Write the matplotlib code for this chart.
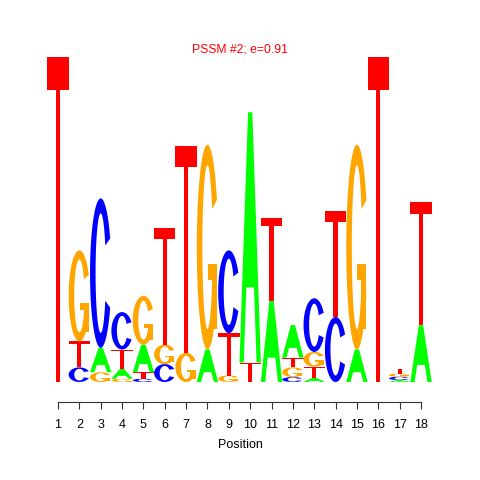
import matplotlib
matplotlib.use('Agg')
import matplotlib.pyplot as plt
from matplotlib.patches import Polygon, PathPatch
from matplotlib.path import Path
import numpy as np

plt.rcParams['font.family'] = ['Liberation Sans', 'DejaVu Sans']

# information content (bits) per letter, positions 1..18
positions = list(range(1, 19))
bits_A = [0.00, 0.00, 0.15, 0.06, 0.17, 0.00, 0.00, 0.20, 0.00, 1.54, 0.50, 0.20, 0.025, 0.00, 0.20, 0.00, 0.012, 0.35]
bits_C = [0.00, 0.09, 0.92, 0.23, 0.02, 0.11, 0.00, 0.00, 0.51, 0.00, 0.00, 0.03, 0.33, 0.40, 0.00, 0.00, 0.02, 0.00]
bits_G = [0.00, 0.56, 0.06, 0.02, 0.30, 0.12, 0.18, 1.26, 0.04, 0.00, 0.00, 0.06, 0.09, 0.00, 1.26, 0.00, 0.02, 0.00]
bits_T = [2.00, 0.16, 0.00, 0.12, 0.04, 0.72, 1.27, 0.00, 0.26, 0.12, 0.51, 0.06, 0.07, 0.65, 0.00, 2.00, 0.03, 0.76]

letters = {'A': bits_A, 'C': bits_C, 'G': bits_G, 'T': bits_T}
colors = {'A': '#00FF00', 'C': '#0000FF', 'G': '#FFA500', 'T': '#FF0000'}


def c_shape(cut=0.48, rx_in=0.24, ry_in=0.40):
    t = np.linspace(cut, 2 * np.pi - cut, 200)
    xo = 0.5 + 0.5 * np.cos(t)
    yo = 0.5 + 0.5 * np.sin(t)
    ti = np.linspace(2 * np.pi - cut, cut, 200)
    xi = 0.5 + rx_in * np.cos(ti)
    yi = 0.5 + ry_in * np.sin(ti)
    return np.concatenate([xo, xi]), np.concatenate([yo, yi])


def draw_letter(ax, ch, x0, y0, w, h, color):
    polys = []
    if ch == 'T':
        polys.append((np.array([0, 10, 10, 6, 6, 4, 4, 0]) * 0.1,
                      np.array([10, 10, 9, 9, 0, 0, 9, 9]) * 0.1))
    elif ch in 'CG':
        polys.append(c_shape())
        if ch == 'G':
            r1 = 0.5 + 0.5 * np.cos(0.48)
            polys.append((np.array([r1, 0.52, 0.52, r1 - 0.24, r1 - 0.24, r1, r1]),
                          np.array([0.42, 0.42, 0.34, 0.34, 0.1, 0.1, 0.42])))
    if ch == 'A':
        ox = np.array([0, 4, 6, 10, 8, 6.8, 3.2, 2, 0]) * 0.1
        oy = np.array([0, 10, 10, 0, 0, 3, 3, 0, 0]) * 0.1
        ix = np.array([3.6, 5, 6.4, 3.6]) * 0.1
        iy = np.array([4, 7.5, 4, 4]) * 0.1
        verts = np.vstack([np.column_stack([x0 + w * ox, y0 + h * oy]),
                           np.column_stack([x0 + w * ix, y0 + h * iy])])
        codes = ([Path.MOVETO] + [Path.LINETO] * 7 + [Path.CLOSEPOLY] +
                 [Path.MOVETO] + [Path.LINETO] * 2 + [Path.CLOSEPOLY])
        ax.add_patch(PathPatch(Path(verts, codes), facecolor=color, edgecolor='none'))
        return
    for px, py in polys:
        ax.add_patch(Polygon(np.column_stack([x0 + w * px, y0 + h * py]),
                             closed=True, facecolor=color, edgecolor='none'))


fig = plt.figure(figsize=(4.8, 4.8), dpi=100)
ax = fig.add_axes([40 / 480, 1 - 382 / 480, 400 / 480, 325 / 480])
ax.set_xlim(1 - 18 / 21.353, 18 + 19 / 21.353)
ax.set_ylim(0, 2)

for i, pos in enumerate(positions):
    stack = sorted(((letters[k][i], k) for k in letters), key=lambda t: t[0])
    y = 0.0
    for h, k in stack:
        if h > 0:
            draw_letter(ax, k, pos - 0.5, y, 1.0, h, colors[k])
            y += h

for s in ['top', 'right', 'left']:
    ax.spines[s].set_visible(False)
ax.spines['bottom'].set_position(('outward', 14.4))
ax.spines['bottom'].set_bounds(1, 18)
ax.spines['bottom'].set_color('#333333')
ax.set_yticks([])
ax.set_xticks(positions)
ax.tick_params(axis='x', length=5, color='#333333', labelsize=9, pad=7)
ax.set_xlabel('Position', fontsize=9, labelpad=6)
fig.text(0.5, 1 - 50 / 480, 'PSSM #2; e=0.91', color='red', fontsize=8.7, ha='center', va='center')

fig.savefig('out.png', dpi=100)
